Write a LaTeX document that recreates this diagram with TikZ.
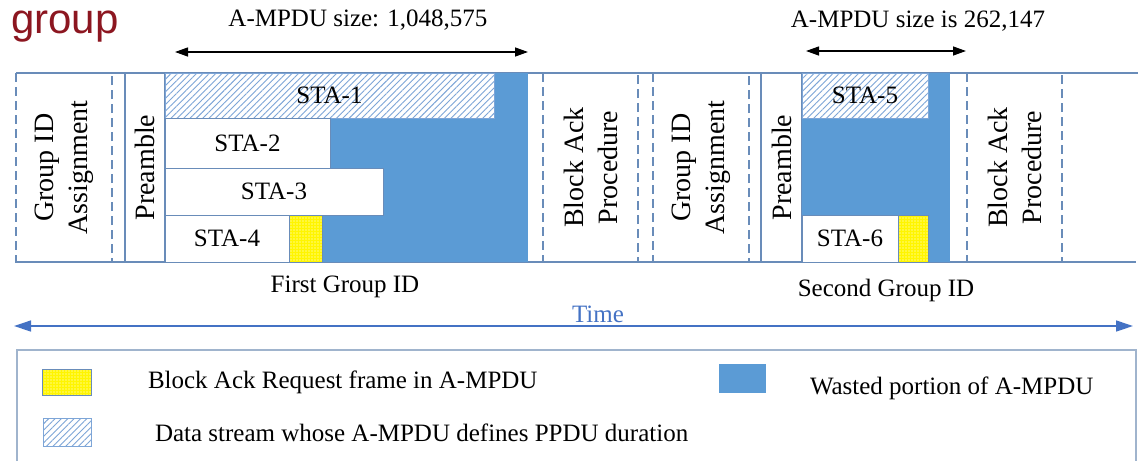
\documentclass[tikz,border=0pt]{standalone}
\usepackage{fontspec}
\setmainfont{Liberation Serif}
\newfontfamily\titlefont{Liberation Sans}
\usetikzlibrary{arrows.meta,patterns.meta}
\definecolor{wblue}{RGB}{91,155,213}
\definecolor{edgec}{RGB}{105,140,185}
\definecolor{hatchc}{RGB}{125,165,215}
\definecolor{timec}{RGB}{68,114,196}
\definecolor{legc}{RGB}{160,180,205}
\definecolor{titlec}{RGB}{140,22,32}
\definecolor{barc}{RGB}{255,245,0}
\tikzset{
  base/.style={inner sep=0pt, outer sep=0pt},
  txt/.style={base, font=\fontsize{25}{29}\selectfont},
  vtxt/.style={base, rotate=90, align=center, font=\fontsize{28}{34}\selectfont},
  dashbox/.style={vtxt, draw=edgec, line width=1.3pt, dash pattern=on 9pt off 5pt, minimum width=189pt},
  preambox/.style={vtxt, draw=edgec, line width=1.2pt, fill=white, minimum width=189pt},
  wastebox/.style={base, fill=wblue},
  stabox/.style={txt, draw=edgec, line width=1pt, fill=white},
  hatchbox/.style={txt, draw=hatchc, line width=0.8pt, preaction={fill=white},
    pattern={Lines[angle=45,distance=4.5pt,line width=0.9pt]}, pattern color=hatchc},
  barbox/.style={base, draw=edgec, line width=0.8pt, preaction={fill=barc},
    pattern={Dots[radius=0.55pt,distance=3pt]}, pattern color=white},
  bandline/.style={draw=edgec, line width=1.1pt},
  sizearrow/.style={black, line width=1.3pt, {Triangle[length=13pt,width=9pt]}-{Triangle[length=13pt,width=9pt]}},
  timearrow/.style={timec, line width=1.3pt, {Triangle[length=17pt,width=11pt]}-{Triangle[length=17pt,width=11pt]}},
  legline/.style={draw=legc, line width=1.2pt},
}
\begin{document}
\begin{tikzpicture}[x=1pt,y=-1pt]
\useasboundingbox (0,0) rectangle (1138,461);

% title fragment
\node[base, anchor=base west, text=titlec, font=\titlefont\fontsize{42}{42}\selectfont] (title) at (11,33) {group};

% band lines
\coordinate (bandTL) at (16,73);
\coordinate (bandTR) at (1138,73);
\coordinate (bandBL) at (16,262);
\coordinate (bandBR) at (1136,262);
\draw[bandline] (bandTL) -- (bandTR);
\draw[bandline] (bandBL) -- (bandBR);

% first group
\node[dashbox, minimum height=96pt] (ga1) at (64,167.5) {Group ID\\Assignment};
\node[preambox, minimum height=40pt] (pre1) at (145,167.5) {Preamble};
\node[wastebox, minimum width=363pt, minimum height=189pt] (blue1) at (346.5,167.5) {};
\node[hatchbox, minimum width=329pt, minimum height=45pt] (sta1) at (329.5,95.5) {STA-1};
\node[stabox, minimum width=165pt, minimum height=50pt] (sta2) at (247.5,143) {STA-2};
\node[stabox, minimum width=218pt, minimum height=47pt] (sta3) at (274,191.5) {STA-3};
\node[stabox, minimum width=124pt, minimum height=47pt] (sta4) at (227,238.5) {STA-4};
\node[barbox, minimum width=33pt, minimum height=47pt] (bar1) at (305.5,238.5) {};
\node[dashbox, minimum height=95pt] (ba1) at (590.5,167.5) {Block Ack\\Procedure};

% second group
\node[dashbox, minimum height=96pt] (ga2) at (701,167.5) {Group ID\\Assignment};
\node[preambox, minimum height=41pt] (pre2) at (781.5,167.5) {Preamble};
\node[wastebox, minimum width=148pt, minimum height=189pt] (blue2) at (876,167.5) {};
\node[hatchbox, minimum width=126pt, minimum height=45pt] (sta5) at (865,95.5) {STA-5};
\node[stabox, minimum width=96pt, minimum height=47pt] (sta6) at (850,238.5) {STA-6};
\node[barbox, minimum width=30pt, minimum height=47pt] (bar2) at (913,238.5) {};
\node[dashbox, minimum height=95pt] (ba2) at (1014.5,167.5) {Block Ack\\Procedure};

% size arrows
\coordinate (s1l) at (175,52);
\coordinate (s1r) at (528,52);
\draw[sizearrow] (s1l) -- (s1r);
\node[txt] (size1) at (358,20) {A-MPDU size: 1,048,575};
\coordinate (s2l) at (806,51);
\coordinate (s2r) at (966,51);
\draw[sizearrow] (s2l) -- (s2r);
\node[txt] (size2) at (918,21) {A-MPDU size is 262,147};

% group labels
\node[txt] (g1lab) at (345,287) {First Group ID};
\node[txt] (g2lab) at (886,290) {Second Group ID};

% time axis
\coordinate (tl) at (14,326);
\coordinate (tr) at (1133,326);
\draw[timearrow] (tl) -- (tr);
\node[txt, text=timec] (time) at (598,314) {Time};

% legend frame
\coordinate (lg1) at (17,461);
\coordinate (lg2) at (17,350);
\coordinate (lg3) at (1136,350);
\coordinate (lg4) at (1136,461);
\draw[legline] (lg1) -- (lg2) -- (lg3) -- (lg4);

% legend items
\node[barbox, minimum width=49pt, minimum height=26pt] (legbar) at (66.5,382) {};
\node[txt, anchor=west] (legbartxt) at (148,382) {Block Ack Request frame in A-MPDU};
\node[hatchbox, minimum width=48pt, minimum height=28pt] (leghatch) at (67,432) {};
\node[txt, anchor=west] (leghatchtxt) at (155,433) {Data stream whose A-MPDU defines PPDU duration};
\node[wastebox, minimum width=47pt, minimum height=29pt] (legblue) at (742.5,378.5) {};
\node[txt, anchor=west] (legbluetxt) at (810,388) {Wasted portion of A-MPDU};
\end{tikzpicture}
\end{document}
